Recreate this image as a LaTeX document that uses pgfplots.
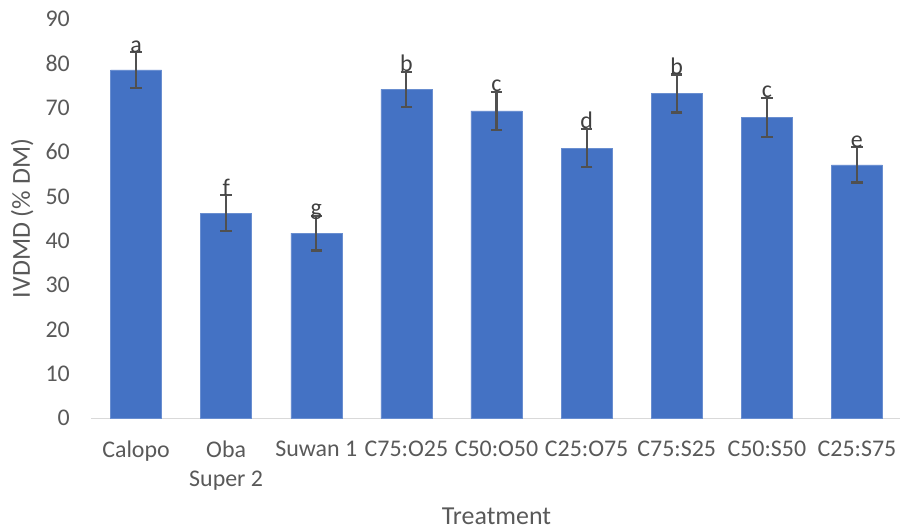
\documentclass[border=0pt]{standalone}
\usepackage{fontspec}
\setmainfont{Carlito}
\usepackage{pgfplots}
\pgfplotsset{compat=1.18}
\usepackage{pgfplotstable}
\definecolor{barblue}{HTML}{4472C4}
\definecolor{txt}{HTML}{595959}
\definecolor{errc}{HTML}{505050}
\definecolor{lett}{HTML}{404040}
\definecolor{axl}{HTML}{D9D9D9}
\pgfplotstableread{
x y err top lab
0 78.5 4.0 82.5 a
1 46.2 4.1 50.3 f
2 41.7 3.9 45.6 g
3 74.1 4.0 78.1 b
4 69.3 4.3 73.6 c
5 60.9 4.3 65.2 d
6 73.2 4.3 77.5 b
7 67.8 4.4 72.2 c
8 57.1 4.0 61.1 e
}\data
\begin{document}
\begin{tikzpicture}
\begin{axis}[
  scale only axis, width=811bp, height=399bp,
  xmin=-0.5, xmax=8.5, ymin=0, ymax=90,
  ytick={0,10,...,90},
  xtick={0,...,8},
  xticklabels={Calopo,{Oba\\Super 2},Suwan 1,C75:O25,C50:O50,C25:O75,C75:S25,C50:S50,C25:S75},
  axis x line*=bottom, axis y line*=left,
  x axis line style={draw=axl, line width=1bp},
  y axis line style={draw=none},
  major tick length=0pt,
  tick style={draw=none},
  /pgf/number format/assume math mode=true,
  xticklabel style={font=\fontsize{24}{29}\selectfont, text=txt, align=center, anchor=north, inner sep=0pt, yshift=-22.7bp},
  yticklabel style={font=\fontsize{24}{29}\selectfont, text=txt, anchor=east, inner sep=0pt, xshift=-21bp},
  xlabel={Treatment},
  ylabel={IVDMD (\% DM)},
  every axis x label/.style={at={([yshift=-106.7bp]axis description cs:0.5,0)}, anchor=base, font=\fontsize{26}{31}\selectfont, text=txt},
  every axis y label/.style={at={([xshift=-61bp]axis description cs:0,0.5)}, anchor=base, rotate=90, font=\fontsize{26}{31}\selectfont, text=txt},
  clip=false,
]
\addplot[ybar, bar width=51bp, fill=barblue, draw=barblue!80!white, line width=0.5bp,
  error bars/.cd, y dir=both, y explicit,
  error bar style={draw=errc, line width=2.2bp},
  error mark options={rotate=90, draw=errc, line width=2.2bp, mark size=5.7bp}]
  table[x=x, y=y, y error=err]{\data};
\addplot[draw=none, mark=none, nodes near coords, point meta=explicit symbolic,
  every node near coord/.append style={anchor=base, inner sep=0pt, font=\fontsize{24}{29}\selectfont, text=lett}]
  table[x=x, y=top, meta=lab]{\data};
\end{axis}
\pgfresetboundingbox
\path[use as bounding box] (-91bp,-111.7bp) rectangle (809bp,418bp);
\end{tikzpicture}
\end{document}
